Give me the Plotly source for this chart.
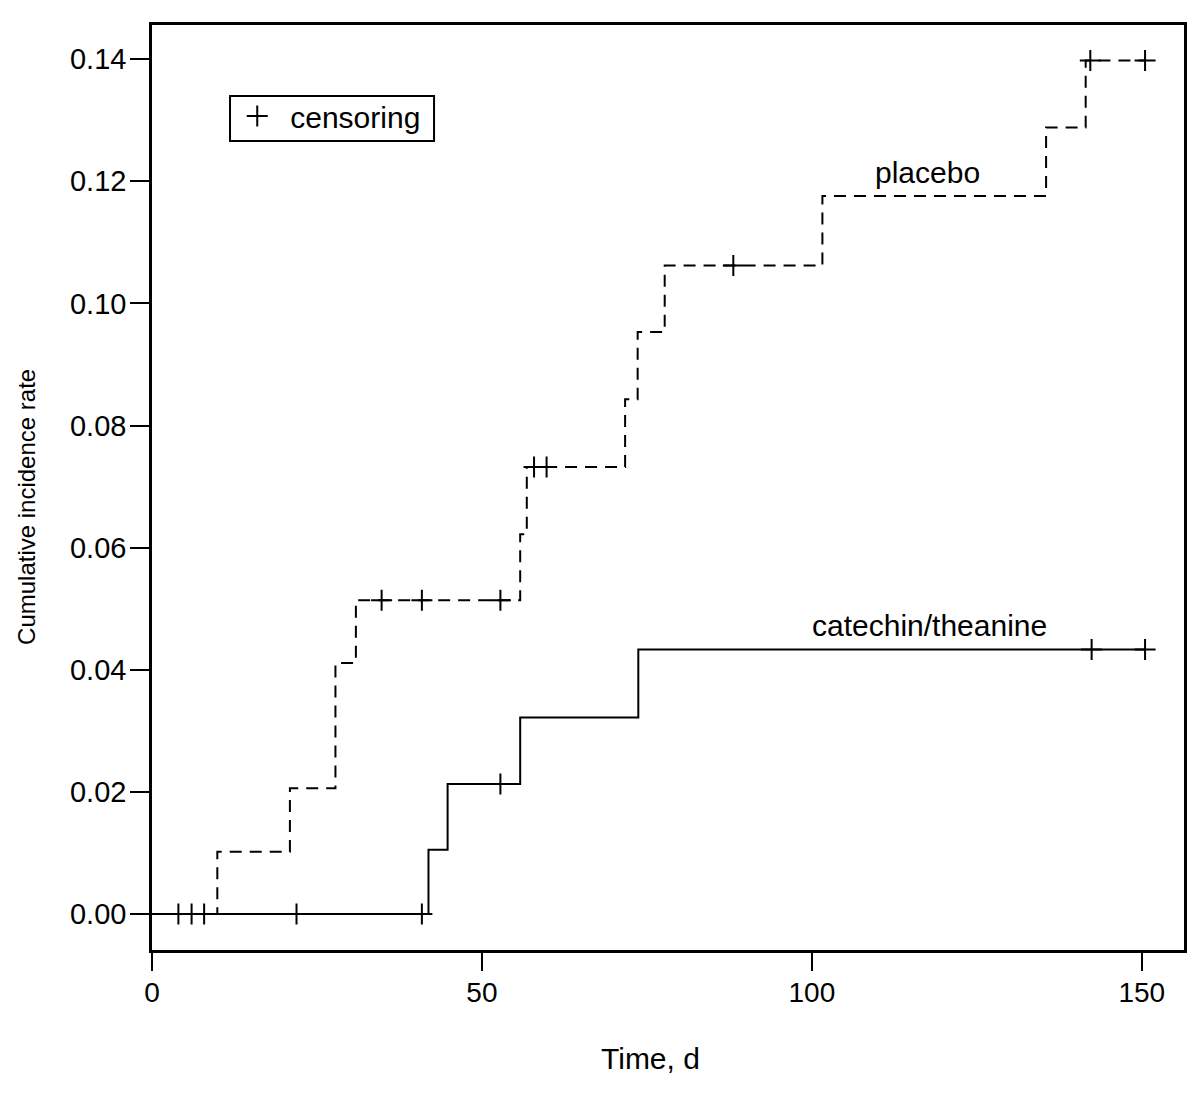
import plotly.graph_objects as go

# ---- data ----
placebo_time = [0, 9.9, 20.9, 27.8, 30.9, 55.8, 56.8, 71.7, 73.6, 77.7, 101.6, 135.5, 141.5, 150.5]
placebo_cuminc = [0, 0.0102, 0.0206, 0.0411, 0.0514, 0.0622, 0.0732, 0.0843, 0.0953, 0.1062, 0.1176, 0.1288, 0.1398, 0.1398]
placebo_cens_time = [4.0, 6.0, 7.9, 34.8, 40.9, 52.8, 57.9, 59.8, 88.1, 142.2, 150.5]
placebo_cens_val = [0, 0, 0, 0.0514, 0.0514, 0.0514, 0.0732, 0.0732, 0.1062, 0.1398, 0.1398]

cat_time = [0, 41.9, 44.8, 55.8, 73.7, 150.5]
cat_cuminc = [0, 0.0105, 0.0213, 0.0322, 0.0433, 0.0433]
cat_cens_time = [21.9, 40.9, 52.8, 142.4, 150.5]
cat_cens_val = [0, 0, 0.0213, 0.0433, 0.0433]

x_ticks = [0, 50, 100, 150]
y_ticks = [0.00, 0.02, 0.04, 0.06, 0.08, 0.10, 0.12, 0.14]
y_tick_labels = ["0.00", "0.02", "0.04", "0.06", "0.08", "0.10", "0.12", "0.14"]

labels = [("placebo", 117.6, 0.1215), ("catechin/theanine", 117.8, 0.0472)]

FONT = "Liberation Sans, Arial, sans-serif"
FS = 28

fig = go.Figure()

fig.add_trace(go.Scatter(x=placebo_time, y=placebo_cuminc, mode="lines",
                         line=dict(shape="hv", color="black", width=2, dash="12px,8px"),
                         showlegend=False, hoverinfo="skip"))
fig.add_trace(go.Scatter(x=cat_time, y=cat_cuminc, mode="lines",
                         line=dict(shape="hv", color="black", width=2),
                         showlegend=False, hoverinfo="skip"))

cross = dict(symbol="cross-thin", size=15, color="black", line=dict(color="black", width=2))
fig.add_trace(go.Scatter(x=placebo_cens_time, y=placebo_cens_val, mode="markers",
                         marker=cross, name="censoring", showlegend=True))
fig.add_trace(go.Scatter(x=cat_cens_time, y=cat_cens_val, mode="markers",
                         marker=cross, name="censoring", showlegend=False))

for txt, lx, ly in labels:
    fig.add_annotation(x=lx, y=ly, text=txt, showarrow=False,
                       font=dict(family=FONT, size=30, color="black"),
                       xanchor="center", yanchor="middle")

# axis titles
fig.add_annotation(x=0.4826, y=-0.1168, xref="paper", yref="paper", text="Time, d",
                   showarrow=False, font=dict(family=FONT, size=30, color="black"),
                   xanchor="center", yanchor="middle")
fig.add_annotation(x=-0.1211, y=0.479, xref="paper", yref="paper", text="Cumulative incidence rate",
                   showarrow=False, textangle=-90, font=dict(family=FONT, size=24, color="black"),
                   xanchor="center", yanchor="middle")

# legend frame
fig.add_shape(type="rect", xref="paper", yref="paper",
              x0=0.0756, x1=0.2733, y0=0.8746, y1=0.9232,
              line=dict(color="black", width=2), fillcolor="rgba(0,0,0,0)")

fig.update_layout(
    width=1192, height=1086,
    margin=dict(l=144, r=16, t=17, b=144),
    paper_bgcolor="white", plot_bgcolor="white",
    font=dict(family=FONT, size=FS, color="black"),
    legend=dict(x=0.0700, y=0.9297, xanchor="left", yanchor="top",
                borderwidth=0, bgcolor="rgba(0,0,0,0)", itemwidth=56,
                font=dict(family=FONT, size=30, color="black")),
    xaxis=dict(range=[0, 156.4], tickvals=x_ticks, ticks="outside", ticklen=18, tickwidth=2,
               tickcolor="black", showline=True, linecolor="black", linewidth=2.5, mirror=True,
               showgrid=False, zeroline=False, ticklabelstandoff=-2,
               tickfont=dict(family=FONT, size=FS, color="black")),
    yaxis=dict(range=[-0.0059, 0.1456], tickvals=y_ticks, ticktext=y_tick_labels,
               ticks="outside", ticklen=19, tickwidth=2, tickcolor="black",
               showline=True, linecolor="black", linewidth=2.5, mirror=True,
               showgrid=False, zeroline=False, ticklabelstandoff=-2,
               tickfont=dict(family=FONT, size=29, color="black")),
)

fig.write_html("out.html")
